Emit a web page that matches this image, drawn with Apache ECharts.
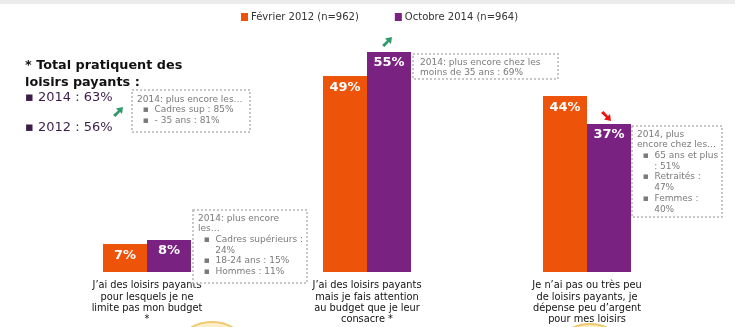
<!DOCTYPE html>
<html><head><meta charset="utf-8">
<script src="https://cdn.jsdelivr.net/npm/echarts@6/dist/echarts.min.js"></script>
<style>html,body{margin:0;padding:0;background:#fff}#c{width:735px;height:327px}</style>
</head><body><div id="c"></div>
<script>
const categories = [
  "J’ai des loisirs payants\npour lesquels je ne\nlimite pas mon budget\n*",
  "J’ai des loisirs payants\nmais je fais attention\nau budget que je leur\nconsacre *",
  "Je n’ai pas ou très peu\nde loisirs payants, je\ndépense peu d’argent\npour mes loisirs"
];
const seriesNames = ["Février 2012 (n=962)", "Octobre 2014 (n=964)"];
const fev2012 = [7, 49, 44];
const oct2014 = [8, 55, 37];

const ORANGE = '#EE5409';
const PURPLE = '#7A2281';
const FONT = 'DejaVu Sans';
const boxStyle = {fill:'#fff', stroke:'#b5b5b5', lineWidth:1.5, lineDash:[2,2]};
const noteStyle = {fill:'#7a7a7a', font:'9px "DejaVu Sans"', lineHeight:10.7};

function box(x,y,w,h){return {type:'rect', shape:{x:x,y:y,width:w,height:h}, style:boxStyle, z:5};}
function note(x,y,t){return {type:'text', x:x, y:y, style:Object.assign({text:t}, noteStyle), z:6};}
function arrowUp(x,y,color){return {type:'polygon', x:x, y:y, shape:{points:[[0,8],[5,3.5],[3,1.5],[10,0],[9,7],[7,5],[2.5,10]]}, style:{fill:color}, z:6};}
function arrowDown(x,y,color){return {type:'polygon', x:x, y:y, shape:{points:[[0,2],[5,6.5],[3,8.5],[10,10],[9,3],[7,5],[2.5,0]]}, style:{fill:color}, z:6};}

const chart = echarts.init(document.getElementById('c'));
chart.setOption({
  animation:false,
  backgroundColor:'#fff',
  legend:{top:7, left:236, itemWidth:7, itemHeight:8, itemGap:36, icon:'rect',
    textStyle:{fontFamily:FONT, fontSize:10, color:'#333', padding:[0,0,0,-2]}, data:seriesNames},
  grid:{left:37, right:38, top:32, bottom:55},
  xAxis:{type:'category', data:categories, axisLine:{show:false}, axisTick:{show:false},
    axisLabel:{interval:0, fontFamily:FONT, fontSize:9.8, color:'#111', lineHeight:11.4, margin:8}},
  yAxis:{type:'value', min:0, max:60, show:false},
  series:[
    {name:seriesNames[0], type:'bar', data:fev2012, barWidth:44, barGap:'0%', itemStyle:{color:ORANGE},
     label:{show:true, position:'insideTop', formatter:'{c}%', color:'#fff', fontFamily:FONT, fontWeight:'bold', fontSize:13, distance:5}},
    {name:seriesNames[1], type:'bar', data:oct2014, barWidth:44, itemStyle:{color:PURPLE},
     label:{show:true, position:'insideTop', formatter:'{c}%', color:'#fff', fontFamily:FONT, fontWeight:'bold', fontSize:13, distance:4}}
  ],
  graphic:[
    {type:'rect', shape:{x:0,y:0,width:735,height:4}, style:{fill:'#ececec'}},
    {type:'ellipse', shape:{cx:212, cy:342, rx:30, ry:20}, style:{fill:'#fbeec8', stroke:'#f0c870', lineWidth:2}, z:0},
    {type:'ellipse', shape:{cx:590, cy:342, rx:28, ry:18}, style:{fill:'#fbeec8', stroke:'#f0c870', lineWidth:2}, z:0},
    {type:'text', x:25, y:57, style:{text:'* Total pratiquent des\nloisirs payants :', font:'bold 12.8px "DejaVu Sans"', fill:'#111', lineHeight:17}},
    {type:'text', x:25, y:91, style:{text:'▪ 2014 : 63%', font:'13px "DejaVu Sans"', fill:'#3b1d48'}},
    {type:'text', x:25, y:121, style:{text:'▪ 2012 : 56%', font:'13px "DejaVu Sans"', fill:'#3b1d48'}},
    arrowUp(113,107,'#2E9A6A'),
    box(132,90,118,42),
    note(137,94,'2014: plus encore les…\n  ▪  Cadres sup : 85%\n  ▪  - 35 ans : 81%'),
    box(193,210,114,73),
    note(198,213,'2014: plus encore\nles…\n  ▪  Cadres supérieurs :\n      24%\n  ▪  18-24 ans : 15%\n  ▪  Hommes : 11%'),
    arrowUp(382,37,'#2E9A6A'),
    box(413,54,145,25),
    note(420,57,'2014: plus encore chez les\nmoins de 35 ans : 69%'),
    arrowDown(601,111,'#E8150E'),
    box(632,126,90,91),
    note(637,129,'2014, plus\nencore chez les…\n  ▪  65 ans et plus\n      : 51%\n  ▪  Retraités :\n      47%\n  ▪  Femmes :\n      40%')
  ]
});
</script></body></html>
